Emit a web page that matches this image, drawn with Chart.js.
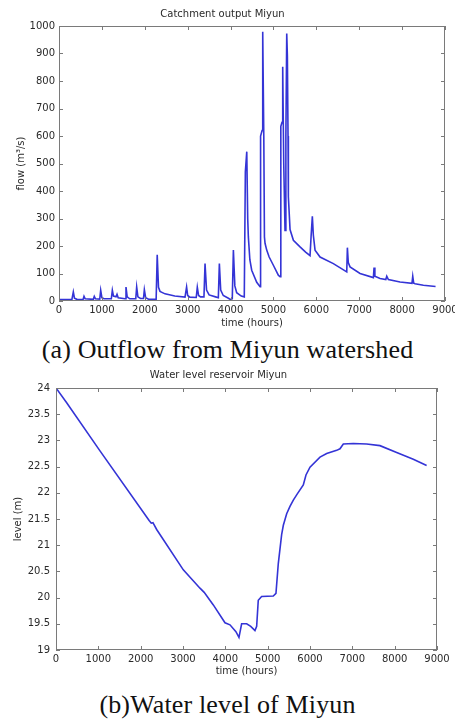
<!DOCTYPE html>
<html lang="en">
<head>
    <meta charset="UTF-8">
    <title>Miyun outflow and water level</title>
    <script src="https://cdn.jsdelivr.net/npm/chart.js"></script>
    <style>
        body {
            margin: 0;
            background: #fff;
            width: 455px;
            height: 720px;
            position: relative;
            overflow: hidden;
        }

        canvas {
            position: absolute;
            left: 0;
        }

        #flowChart { top: 0; }
        #levelChart { top: 360px; }

        .caption {
            position: absolute;
            left: 0;
            width: 455px;
            text-align: center;
            font-family: 'Liberation Serif', 'Times New Roman', serif;
            font-size: 26px;
            letter-spacing: 0.15px;
            color: #111;
            line-height: 1;
        }
    </style>
</head>
<body>
    <canvas id="flowChart" width="455" height="335"></canvas>
    <div class="caption" style="top: 337px;">(a) Outflow from Miyun watershed</div>

    <canvas id="levelChart" width="455" height="325"></canvas>
    <div class="caption" style="top: 692px;">(b)Water level of Miyun</div>

    <script>
        // catchment outflow (m3/s)
        const flowHours = [0, 300, 334, 360, 420, 560, 583, 610, 800, 823, 850, 950, 972, 1000, 1050,
            1220, 1244, 1270, 1330, 1353, 1380, 1540, 1562, 1590, 1650, 1790, 1811, 1840, 1900,
            1970, 1990, 2020, 2100, 2265, 2290, 2320, 2355, 2472, 2700, 2938, 2975, 3000, 3050,
            3200, 3225, 3255, 3300, 3380, 3405, 3440, 3500, 3650, 3715, 3739, 3770, 3830, 3950,
            4000, 4040, 4066, 4100, 4143, 4250, 4320, 4345, 4378, 4400, 4415, 4450, 4493, 4610,
            4688, 4700, 4735, 4750, 4775, 4790, 4804, 4843, 4900, 4998, 5114, 5155, 5172, 5200,
            5216, 5240, 5270, 5290, 5310, 5325, 5340, 5348, 5387, 5465, 5620, 5750, 5853, 5877,
            5907, 5930, 5970, 6087, 6397, 6709, 6724, 6745, 6786, 7019, 7330, 7346, 7365, 7486,
            7620, 7642, 7680, 7952, 8230, 8248, 8270, 8302, 8496, 8780];
        const flowValues = [5, 5, 33, 10, 6, 5, 17, 8, 6, 17, 8, 7, 39, 12, 8,
            8, 39, 18, 15, 24, 12, 8, 51, 15, 8, 8, 51, 15, 9,
            9, 41, 12, 6, 6, 168, 50, 35, 26, 18, 14, 51, 20, 14,
            13, 50, 20, 15, 15, 136, 40, 22, 15, 12, 136, 40, 20, 10,
            5, 8, 185, 55, 30, 18, 15, 470, 543, 300, 233, 150, 112, 68,
            52, 600, 620, 979, 600, 233, 210, 185, 160, 130, 94, 88, 635, 650,
            852, 500, 257, 600, 973, 890, 600, 379, 260, 221, 197, 178, 165, 233,
            308, 240, 185, 160, 136, 106, 194, 140, 124, 100, 85, 122, 90, 82,
            78, 90, 78, 69, 64, 90, 65, 63, 57, 53];

        // reservoir water level (m)
        const levelHours = [0, 252, 1039, 2200, 2250, 2290, 2378, 3007, 3401, 3500, 3716, 3992, 4110,
            4250, 4322, 4385, 4504, 4600, 4700, 4740, 4778, 4857, 5133, 5196, 5251, 5330, 5370,
            5449, 5527, 5606, 5700, 5842, 5905, 6000, 6236, 6394, 6630, 6708, 6787, 7023, 7338,
            7653, 8047, 8440, 8755];
        const levelValues = [24, 23.72, 22.8, 21.47, 21.42, 21.43, 21.3, 20.53, 20.18, 20.1, 19.86, 19.52, 19.48,
            19.35, 19.24, 19.5, 19.5, 19.45, 19.37, 19.45, 19.95, 20.02, 20.03, 20.08, 20.65, 21.2, 21.38,
            21.6, 21.74, 21.86, 21.98, 22.15, 22.34, 22.49, 22.68, 22.75, 22.81, 22.84, 22.93, 22.94, 22.93,
            22.9, 22.77, 22.64, 22.52];

        const hourTicks = [0, 1000, 2000, 3000, 4000, 5000, 6000, 7000, 8000, 9000];

        const axisColor = '#7a7a7a';
        const textColor = '#2a2a2a';
        const lineColor = '#3434d6';
        const font = { family: "'DejaVu Sans', sans-serif", size: 10 };
        const plain = v => String(v);

        // matlab style box with inward ticks on all four sides
        const boxTicks = {
            id: 'boxTicks',
            afterDraw(chart) {
                const { ctx, chartArea: a, scales: { x, y } } = chart;
                const len = 4;
                ctx.save();
                ctx.strokeStyle = axisColor;
                ctx.lineWidth = 1;
                ctx.strokeRect(a.left + 0.5, a.top + 0.5, a.right - a.left - 1, a.bottom - a.top - 1);
                ctx.beginPath();
                x.ticks.forEach(t => {
                    const px = Math.round(x.getPixelForValue(t.value)) + 0.5;
                    ctx.moveTo(px, a.bottom);
                    ctx.lineTo(px, a.bottom - len);
                    ctx.moveTo(px, a.top);
                    ctx.lineTo(px, a.top + len);
                });
                y.ticks.forEach(t => {
                    const py = Math.round(y.getPixelForValue(t.value)) + 0.5;
                    ctx.moveTo(a.left, py);
                    ctx.lineTo(a.left + len, py);
                    ctx.moveTo(a.right, py);
                    ctx.lineTo(a.right - len, py);
                });
                ctx.stroke();
                ctx.restore();
            }
        };

        function makeChart(id, opts) {
            const points = opts.xs.map((v, i) => ({ x: v, y: opts.ys[i] }));
            return new Chart(document.getElementById(id), {
                type: 'line',
                data: {
                    datasets: [{
                        data: points,
                        borderColor: lineColor,
                        borderWidth: 1.6,
                        pointRadius: 0,
                        tension: 0,
                        fill: false
                    }]
                },
                options: {
                    responsive: false,
                    animation: false,
                    devicePixelRatio: 1,
                    layout: { padding: { left: 0, right: opts.padRight, top: 0, bottom: 0 } },
                    plugins: {
                        legend: { display: false },
                        tooltip: { enabled: false },
                        title: {
                            display: true,
                            text: opts.title,
                            color: textColor,
                            font: { ...font, weight: 'normal' },
                            padding: opts.titlePad
                        }
                    },
                    scales: {
                        x: {
                            type: 'linear',
                            min: 0,
                            max: 9000,
                            afterBuildTicks: s => { s.ticks = hourTicks.map(v => ({ value: v })); },
                            afterFit: s => { s.height = opts.xHeight; s.paddingLeft = 0; s.paddingRight = 0; },
                            grid: { display: false, drawTicks: false },
                            border: { display: false },
                            ticks: { color: textColor, font, padding: 3, maxRotation: 0, autoSkip: false, callback: plain },
                            title: { display: true, text: 'time (hours)', color: textColor, font, padding: { top: 0, bottom: opts.xTitlePad } }
                        },
                        y: {
                            min: opts.yMin,
                            max: opts.yMax,
                            ticks: { stepSize: opts.yStep, color: textColor, font, padding: opts.yTickPad, callback: plain },
                            afterFit: s => { s.width = opts.yWidth; s.paddingTop = 0; s.paddingBottom = 0; },
                            grid: { display: false, drawTicks: false },
                            border: { display: false },
                            title: { display: true, text: opts.yLabel, color: textColor, font, padding: { top: opts.yTitlePad, bottom: 0 } }
                        }
                    }
                },
                plugins: [boxTicks]
            });
        }

        makeChart('flowChart', {
            xs: flowHours, ys: flowValues,
            title: 'Catchment output Miyun',
            titlePad: { top: 8, bottom: 6 },
            padRight: 10, yWidth: 59, xHeight: 34, xTitlePad: 6,
            yMin: 0, yMax: 1000, yStep: 100, yTickPad: 4, yTitlePad: 15,
            yLabel: 'flow (m\u00b3/s)'
        });

        makeChart('levelChart', {
            xs: levelHours, ys: levelValues,
            title: 'Water level reservoir Miyun',
            titlePad: { top: 9, bottom: 7 },
            padRight: 18, yWidth: 56, xHeight: 35, xTitlePad: 8,
            yMin: 19, yMax: 24, yStep: 0.5, yTickPad: 6, yTitlePad: 12,
            yLabel: 'level (m)'
        });
    </script>
</body>
</html>
